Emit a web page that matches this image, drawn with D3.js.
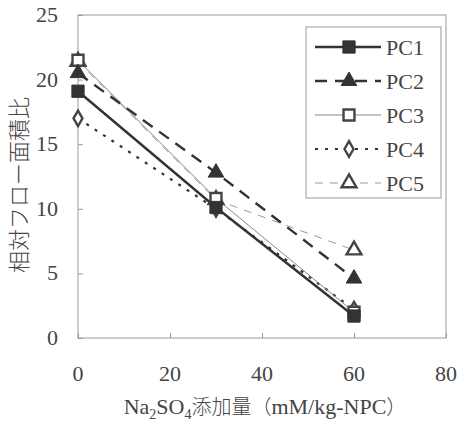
<!DOCTYPE html>
<html><head><meta charset="utf-8">
<script src="https://cdn.jsdelivr.net/npm/d3@7"></script>
<style>body{margin:0;background:#fff}svg{display:block}</style>
</head><body>
<svg id="c" width="461" height="425"></svg>
<script>
const xValues = [0, 30, 60];
const seriesNames = ["PC1", "PC2", "PC3", "PC4", "PC5"];
const pc1 = [19.1, 10.1, 1.7];
const pc2 = [20.5, 12.8, 4.6];
const pc3 = [21.5, 10.8, 2.0];
const pc4 = [17.0, 10.0, 2.2];
const pc5 = [21.4, 10.7, 6.8];
const xTicks = [0, 20, 40, 60, 80];
const yTicks = [0, 5, 10, 15, 20, 25];
// [text, kind] kind: 0 serif, 1 serif subscript, 2 CJK
const xLabelParts = [["Na", 0], ["2", 1], ["SO", 0], ["4", 1], ["添加量（", 2], ["mM/kg-NPC", 0], ["）", 2]];
const yLabel = "相対フロー面積比";

const seriesData = [pc1, pc2, pc3, pc4, pc5];
const styles = [
  {stroke:"#333", w:2.4, dash:null, sym:d3.symbolSquare, fill:"#333", size:150},
  {stroke:"#333", w:2.4, dash:"12,8", sym:d3.symbolTriangle, fill:"#333", size:105},
  {stroke:"#888", w:1, dash:null, sym:d3.symbolSquare, fill:"#fff", size:120},
  {stroke:"#333", w:2.2, dash:"3,7", sym:d3.symbolDiamond, fill:"#fff", size:70},
  {stroke:"#999", w:1, dash:"8,7", sym:d3.symbolTriangle, fill:"#fff", size:95}
];
const markerStroke = ["#333","#333","#444","#444","#444"];

const svg = d3.select("#c");
const serif = "'Liberation Serif','DejaVu Serif',serif";
const cjk = "'Noto Sans CJK JP'";
const x = d3.scaleLinear().domain([0, 80]).range([78, 446]);
const y = d3.scaleLinear().domain([0, 25]).range([338, 15]);

svg.append("rect").attr("x", 78).attr("y", 15).attr("width", 368).attr("height", 323)
  .attr("fill", "none").attr("stroke", "#999").attr("stroke-width", 1);

const ya = svg.append("g").attr("transform", "translate(78,0)")
  .call(d3.axisRight(y).tickValues(yTicks).tickSize(5).tickFormat(""));
ya.select(".domain").remove();
ya.selectAll("line").attr("stroke", "#999");
const xa = svg.append("g").attr("transform", "translate(0,338)")
  .call(d3.axisTop(x).tickValues(xTicks).tickSize(5).tickFormat(""));
xa.select(".domain").remove();
xa.selectAll("line").attr("stroke", "#999");

svg.selectAll(".yl").data(yTicks).join("text")
  .attr("x", 58).attr("y", d => y(d) + 7).attr("text-anchor", "end")
  .attr("font-family", serif).attr("font-size", 22).attr("fill", "#444").text(d => d);
svg.selectAll(".xl").data(xTicks).join("text")
  .attr("x", d => x(d)).attr("y", 381).attr("text-anchor", "middle")
  .attr("font-family", serif).attr("font-size", 22).attr("fill", "#444").text(d => d);

svg.append("text").attr("transform", "translate(27,185) rotate(-90)")
  .attr("text-anchor", "middle").attr("font-family", cjk)
  .attr("font-size", 22).attr("font-weight", 300).attr("fill", "#444").text(yLabel);

const xl = svg.append("text").attr("x", 265).attr("y", 414).attr("text-anchor", "middle")
  .attr("font-family", serif).attr("font-size", 22).attr("fill", "#444");
let prevKind = 0;
xLabelParts.forEach(([t, k]) => {
  const ts = xl.append("tspan").text(t);
  if (k === 1) ts.attr("font-size", 14).attr("dy", prevKind === 1 ? 0 : 5);
  else {
    if (prevKind === 1) ts.attr("dy", -5);
    if (k === 2) ts.attr("font-family", cjk).attr("font-weight", 300).attr("font-size", 20);
  }
  prevKind = k;
});

const line = d3.line().x((d, i) => x(xValues[i])).y(d => y(d));
[4, 3, 2, 1, 0].forEach(si => {
  const s = styles[si];
  svg.append("path").datum(seriesData[si]).attr("d", line)
    .attr("fill", "none").attr("stroke", s.stroke).attr("stroke-width", s.w)
    .attr("stroke-dasharray", s.dash);
});
[4, 3, 2, 1, 0].forEach(si => {
  const s = styles[si];
  svg.selectAll(".m" + si).data(seriesData[si]).join("path")
    .attr("transform", (d, i) => `translate(${x(xValues[i])},${y(d)})`)
    .attr("d", d3.symbol().type(s.sym).size(s.size)())
    .attr("fill", s.fill).attr("stroke", markerStroke[si]).attr("stroke-width", si >= 2 ? 2.4 : 1);
});

svg.append("rect").attr("x", 306).attr("y", 27).attr("width", 135).attr("height", 171)
  .attr("fill", "#fff").attr("stroke", "#999").attr("stroke-width", 1);
seriesNames.forEach((n, i) => {
  const s = styles[i];
  const ly = 47 + i * 34;
  svg.append("line").attr("x1", 315).attr("x2", 381).attr("y1", ly).attr("y2", ly)
    .attr("stroke", s.stroke).attr("stroke-width", s.w).attr("stroke-dasharray", s.dash);
  svg.append("path").attr("transform", `translate(349,${ly})`)
    .attr("d", d3.symbol().type(s.sym).size(s.size)())
    .attr("fill", s.fill).attr("stroke", markerStroke[i]).attr("stroke-width", i >= 2 ? 2.4 : 1);
  svg.append("text").attr("x", 386).attr("y", ly + 8).attr("font-family", serif)
    .attr("font-size", 22).attr("fill", "#444").text(n);
});
</script>
</body></html>
